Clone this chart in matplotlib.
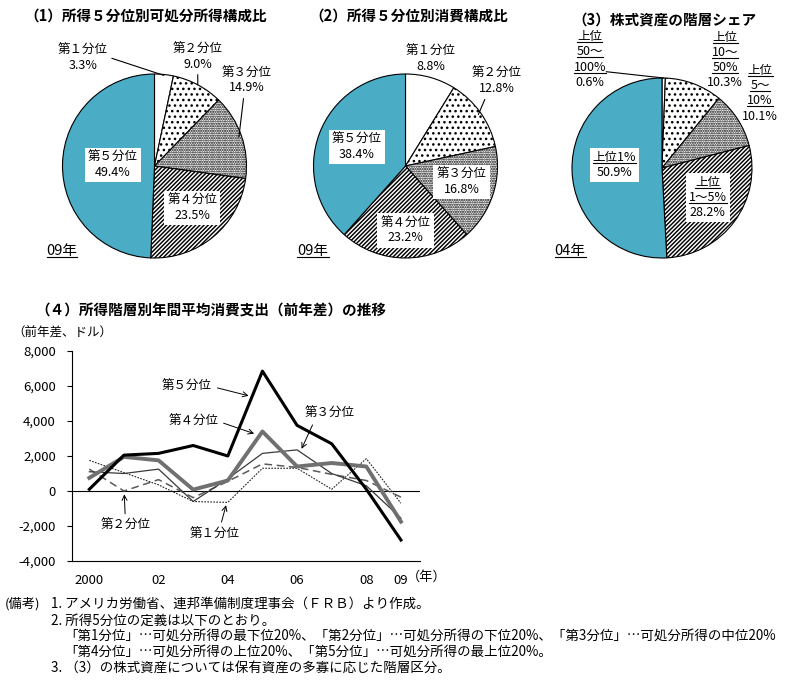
import numpy as np
import matplotlib
matplotlib.use('Agg')
import matplotlib.pyplot as plt
from matplotlib.lines import Line2D
from matplotlib.patches import Rectangle

plt.rcParams['font.family'] = ['Noto Sans CJK JP', 'DejaVu Sans']
plt.rcParams['hatch.linewidth'] = 1.05

W, H = 788, 685
TEAL = '#4bacc6'

# (1), (2) quintile shares, 09
quint_names = ['第１分位', '第２分位', '第３分位', '第４分位', '第５分位']
income_share = [3.3, 9.0, 14.9, 23.5, 49.4]
consume_share = [8.8, 12.8, 16.8, 23.2, 38.4]

# (3) stock holdings share, 04
stock_names = [['上位', '50～', '100%'], ['上位', '10～', '50%'], ['上位', '5～', '10%'],
               ['上位', '1～5%'], ['上位1%']]
stock_share = [0.6, 10.3, 10.1, 28.2, 50.9]

# (4) yearly change of consumption spending (USD)
years = [2000, 2001, 2002, 2003, 2004, 2005, 2006, 2007, 2008, 2009]
q1 = [1750, 1050, 350, -600, -650, 1300, 1300, 100, 1850, -700]
q2 = [1250, 0, 650, -380, 550, 1550, 1350, 950, 600, -350]
q3 = [1100, 1000, 1250, -600, 700, 2150, 2350, 1000, 300, -1550]
q4 = [750, 1950, 1750, 80, 600, 3400, 1400, 1600, 1400, -1750]
q5 = [100, 2050, 2150, 2600, 2000, 6850, 3750, 2700, 100, -2800]
ytick_vals = [-4000, -2000, 0, 2000, 4000, 6000, 8000]
ytick_text = ['-4,000', '-2,000', '0', '2,000', '4,000', '6,000', '8,000']
xtick_vals = [2000, 2002, 2004, 2006, 2008, 2009]
xtick_text = ['2000', '02', '04', '06', '08', '09']

notes = [
    '1. アメリカ労働省、連邦準備制度理事会（ＦＲＢ）より作成。',
    '2. 所得5分位の定義は以下のとおり。',
    '「第1分位」…可処分所得の最下位20%、「第2分位」…可処分所得の下位20%、「第3分位」…可処分所得の中位20%',
    '「第4分位」…可処分所得の上位20%、「第5分位」…可処分所得の最上位20%。',
    '3. （3）の株式資産については保有資産の多寡に応じた階層区分。',
]

faces = ['white', 'white', 'white', 'white', TEAL]
hatches = [None, '...', '.......', '////////', None]

fig = plt.figure(figsize=(W / 100, H / 100), dpi=100)
underlined = []
boxes = []


def px_box(l, t, r, b):
    return [l / W, 1 - b / H, (r - l) / W, (b - t) / H]


def pie_axes(cx, cy, r, shares):
    R = r * 1.04
    ax = fig.add_axes(px_box(cx - R, cy - R, cx + R, cy + R))
    wedges, _ = ax.pie(shares, startangle=90, counterclock=False, colors=faces,
                       radius=1, wedgeprops=dict(edgecolor='black', linewidth=0.8))
    for w, h in zip(wedges, hatches):
        if h:
            w.set_hatch(h)
    ax.set_xlim(-1.04, 1.04)
    ax.set_ylim(-1.04, 1.04)
    ax.set_aspect('equal')
    ax.axis('off')
    return ax, wedges


def mid(w, r=1.0):
    a = np.deg2rad((w.theta1 + w.theta2) / 2)
    return r * np.cos(a), r * np.sin(a)


def lead(ax, s, xy, xytext, relpos, box=False):
    bb = dict(boxstyle='square,pad=0.25', fc='white', ec='none') if box else None
    ap = dict(arrowstyle='-', lw=0.8, color='black', relpos=relpos, shrinkA=1, shrinkB=0) if xy else None
    ax.annotate(s, xy=xy if xy else xytext, xytext=xytext, ha='center', va='center',
                fontsize=9, bbox=bb, arrowprops=ap, zorder=6, annotation_clip=False)


def block(ax, x, y, lines, n_under, box=False, step=11):
    n = len(lines)
    texts = []
    for i, s in enumerate(lines):
        off = ((n - 1) / 2 - i) * step
        t = ax.annotate(s, (x, y), xytext=(0, off), textcoords='offset points',
                        ha='center', va='center', fontsize=9, zorder=6,
                        annotation_clip=False)
        texts.append(t)
    underlined.extend((ax, t) for t in texts[:n_under])
    if box:
        boxes.append((ax, texts))
    return texts


# ---- (1)
ax1, w1 = pie_axes(154.5, 166, 92, income_share)
lead(ax1, f'{quint_names[0]}\n{income_share[0]}%', mid(w1[0], 0.99), (-0.78, 1.17), (1, 0.55))
lead(ax1, f'{quint_names[1]}\n{income_share[1]:.1f}%', mid(w1[1], 1.0), (0.47, 1.19), (0.5, 0))
lead(ax1, f'{quint_names[2]}\n{income_share[2]}%', mid(w1[2], 0.97), (1.0, 0.93), (0.45, 0))
lead(ax1, f'{quint_names[3]}\n{income_share[3]}%', None, (0.41, -0.46), None, box=True)
lead(ax1, f'{quint_names[4]}\n{income_share[4]}%', None, (-0.45, 0.01), None, box=True)

# ---- (2)
ax2, w2 = pie_axes(405.5, 166, 92, consume_share)
lead(ax2, f'{quint_names[0]}\n{consume_share[0]}%', None, (0.27, 1.16), None)
lead(ax2, f'{quint_names[1]}\n{consume_share[1]}%', mid(w2[1], 0.97), (0.99, 0.92), (0.3, 0))
lead(ax2, f'{quint_names[2]}\n{consume_share[2]}%', None, (0.61, -0.17), None, box=True)
lead(ax2, f'{quint_names[3]}\n{consume_share[3]}%', None, (0.0, -0.70), None, box=True)
lead(ax2, f'{quint_names[4]}\n{consume_share[4]}%', None, (-0.53, 0.21), None, box=True)

# ---- (3)
ax3, w3 = pie_axes(662, 168, 90, stock_share)
block(ax3, -0.80, 1.205, stock_names[0] + [f'{stock_share[0]}%'], 3)
block(ax3, 0.70, 1.20, stock_names[1] + [f'{stock_share[1]}%'], 3)
block(ax3, 1.09, 0.83, stock_names[2] + [f'{stock_share[2]}%'], 3)
block(ax3, 0.51, -0.33, stock_names[3] + [f'{stock_share[3]}%'], 2, box=True)
block(ax3, -0.53, 0.03, stock_names[4] + [f'{stock_share[4]}%'], 1, box=True)
ax3.annotate('', xy=mid(w3[0], 1.0), xytext=(-0.62, 1.07), annotation_clip=False,
             arrowprops=dict(arrowstyle='-', lw=0.8, color='black', shrinkA=0, shrinkB=0))

# titles and year tags
fig.text(146 / W, 1 - 17 / H, '（1）所得５分位別可処分所得構成比', ha='center', va='center',
         fontsize=10.5, fontweight='bold')
fig.text(409 / W, 1 - 17 / H, '（2）所得５分位別消費構成比', ha='center', va='center',
         fontsize=10.5, fontweight='bold')
fig.text(664 / W, 1 - 20 / H, '（3）株式資産の階層シェア', ha='center', va='center',
         fontsize=10.5, fontweight='bold')
for x, s in [(62, '09年'), (313, '09年'), (570, '04年')]:
    t = fig.text(x / W, 1 - 251 / H, s, ha='center', va='center', fontsize=10.5)
    underlined.append((None, t))

# ---- (4)
ax4 = fig.add_axes(px_box(72, 351, 420, 561))
ax4.plot(years, q5, color='black', lw=2.2, zorder=6)
ax4.plot(years, q4, color='#707070', lw=2.8, zorder=5)
ax4.plot(years, q3, color='#3a3a3a', lw=0.9, zorder=4)
ax4.plot(years, q2, color='#5a5a5a', lw=1.1, ls=(0, (5, 3)), zorder=3)
ax4.plot(years, q1, color='#222222', lw=0.8, ls=(0, (1.5, 1.2)), zorder=3)
ax4.axhline(0, color='black', lw=0.8, zorder=2)
ax4.set_xlim(1999.5, 2009.55)
ax4.set_ylim(-4000, 8000)
ax4.spines[['top', 'right']].set_visible(False)
ax4.spines[['left', 'bottom']].set_linewidth(0.8)
ax4.set_yticks(ytick_vals)
ax4.set_yticklabels(ytick_text, fontsize=9.5)
ax4.set_xticks(xtick_vals)
ax4.set_xticklabels(xtick_text, fontsize=9.5)
ax4.tick_params(axis='x', length=0, pad=9)
ax4.tick_params(axis='y', direction='out', length=3.6, width=0.8, pad=8)
ax4.text(1.02, -0.076, '（年）', transform=ax4.transAxes, ha='center', va='center', fontsize=9.5)

arw = dict(arrowstyle='->', lw=0.7, color='black', shrinkA=2, shrinkB=0)
ax4.annotate('第５分位', xy=(2004.6, 5440), xytext=(2002.82, 5970), ha='center', va='center',
             fontsize=9, arrowprops=dict(arw, relpos=(1, 0.5)))
ax4.annotate('第４分位', xy=(2004.76, 3280), xytext=(2003.0, 3980), ha='center', va='center',
             fontsize=9, arrowprops=dict(arw, relpos=(1, 0.5)))
ax4.annotate('第３分位', xy=(2006.13, 2410), xytext=(2006.95, 4450), ha='center', va='center',
             fontsize=9, arrowprops=dict(arw, relpos=(0.2, 0)))
ax4.annotate('第２分位', xy=(2001.01, -190), xytext=(2001.04, -1990), ha='center', va='center',
             fontsize=9, arrowprops=dict(arw, relpos=(0.5, 1)))
ax4.annotate('第１分位', xy=(2003.95, -810), xytext=(2003.63, -2460), ha='center', va='center',
             fontsize=9, arrowprops=dict(arw, relpos=(0.6, 1)))

fig.text(211 / W, 1 - 310 / H, '（４）所得階層別年間平均消費支出（前年差）の推移', ha='center',
         va='center', fontsize=10.5, fontweight='bold')
fig.text(62 / W, 1 - 333 / H, '（前年差、ドル）', ha='center', va='center', fontsize=9)

# notes
fig.text(5 / W, 1 - 604 / H, '(備考)', ha='left', va='center', fontsize=9.5)
for (x, y), s in zip([(51, 604), (51, 621), (64, 636), (64, 652), (51, 668)], notes):
    fig.text(x / W, 1 - y / H, s, ha='left', va='center', fontsize=9.7)

# underlines and white boxes need text extents
fig.canvas.draw()
rend = fig.canvas.get_renderer()
inv = fig.transFigure.inverted()
for ax, t in underlined:
    bb = t.get_window_extent(rend)
    (x0, y0), (x1, _) = inv.transform([(bb.x0, bb.y0 + 1), (bb.x1, bb.y0)])
    ln = Line2D([x0, x1], [y0, y0], transform=fig.transFigure, color='black', lw=0.8,
                zorder=7, clip_on=False)
    if ax is None:
        fig.add_artist(ln)
    else:
        ax.add_artist(ln)
for ax, texts in boxes:
    bbs = [t.get_window_extent(rend) for t in texts]
    x0 = min(b.x0 for b in bbs) - 3
    x1 = max(b.x1 for b in bbs) + 3
    y0 = min(b.y0 for b in bbs) - 3
    y1 = max(b.y1 for b in bbs) + 3
    (fx0, fy0), (fx1, fy1) = inv.transform([(x0, y0), (x1, y1)])
    ax.add_artist(Rectangle((fx0, fy0), fx1 - fx0, fy1 - fy0, transform=fig.transFigure,
                            fc='white', ec='none', zorder=5.5, clip_on=False))

fig.savefig('out.png', dpi=100)
